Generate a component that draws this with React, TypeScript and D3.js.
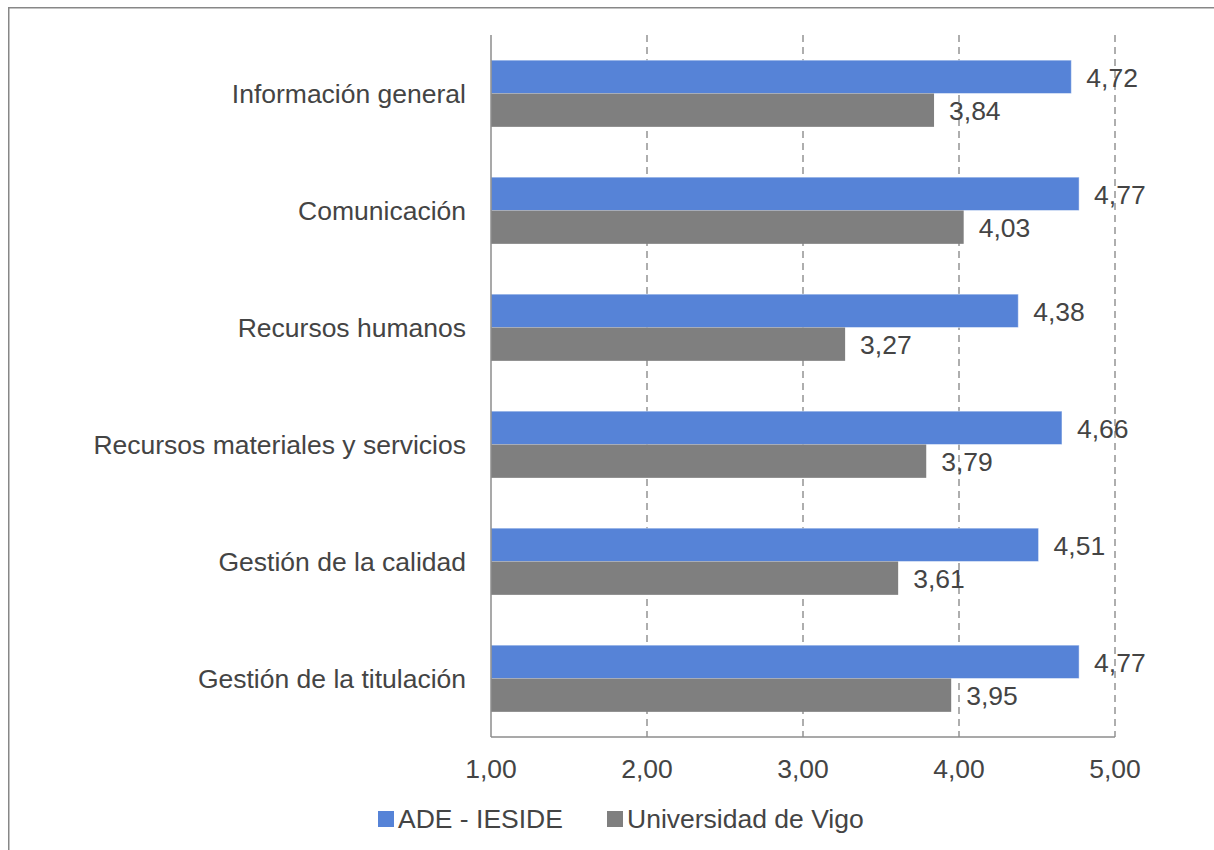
import React from "react";
import * as d3 from "d3";

const categories = [
  "Información general",
  "Comunicación",
  "Recursos humanos",
  "Recursos materiales y servicios",
  "Gestión de la calidad",
  "Gestión de la titulación",
];
const seriesNames = ["ADE - IESIDE", "Universidad de Vigo"];
const adeValues = [4.72, 4.77, 4.38, 4.66, 4.51, 4.77];
const vigoValues = [3.84, 4.03, 3.27, 3.79, 3.61, 3.95];
const xTicks = [1, 2, 3, 4, 5];
const seriesColors = ["#5683D7", "#7F7F7F"];

const W = 1214;
const H = 850;
const plotLeft = 491;
const plotRight = 1115;
const plotTop = 35;
const plotBottom = 737;
const FONT = "'Liberation Sans', Arial, sans-serif";
const FS = 26.5;
const TEXT = "#444444";

const fmt = (v: number) => d3.format(".2f")(v).replace(".", ",");

export default function App() {
  const x = d3.scaleLinear().domain([1, 5]).range([plotLeft, plotRight]);
  const y = d3
    .scaleBand<string>()
    .domain(categories)
    .range([plotTop, plotBottom])
    .paddingInner(0.43)
    .paddingOuter(0.215);
  const inner = d3
    .scaleBand<string>()
    .domain(seriesNames)
    .range([0, y.bandwidth()])
    .padding(0);
  const seriesValues = [adeValues, vigoValues];

  return (
    <div style={{ position: "fixed", left: 0, top: 0 }}>
      <svg width={W} height={H} style={{ display: "block", background: "#fff" }}>
        <rect x={8.75} y={7.75} width={1400} height={1000} fill="#fff" stroke="#878787" strokeWidth={1.5} />
        {/* gridlines */}
        {xTicks.slice(1).map((t) => (
          <line
            key={"g" + t}
            x1={x(t)}
            x2={x(t)}
            y1={plotTop}
            y2={plotBottom}
            stroke="#949494"
            strokeWidth={1.5}
            strokeDasharray="7,5"
          />
        ))}
        {/* bars */}
        {categories.map((c, i) =>
          seriesNames.map((s, j) => {
            const v = seriesValues[j][i];
            const by = (y(c) as number) + (inner(s) as number);
            const bh = inner.bandwidth();
            return (
              <g key={c + s}>
                <rect
                  x={x(1)}
                  y={by}
                  width={x(v) - x(1)}
                  height={bh}
                  fill={seriesColors[j]}
                  stroke={j === 0 ? "rgba(255,255,255,0.45)" : "none"}
                  strokeWidth={1}
                />
                <text
                  x={x(v) + 15}
                  y={by + bh / 2 + 1}
                  dy="0.35em"
                  fontFamily={FONT}
                  fontSize={FS}
                  fill={TEXT}
                >
                  {fmt(v)}
                </text>
              </g>
            );
          })
        )}
        {/* axes */}
        <line x1={plotLeft} x2={plotLeft} y1={plotTop} y2={plotBottom} stroke="#8c8c8c" strokeWidth={1.5} />
        <line x1={plotLeft} x2={plotRight} y1={plotBottom} y2={plotBottom} stroke="#8c8c8c" strokeWidth={1.5} />
        {/* category labels */}
        {categories.map((c) => (
          <text
            key={"c" + c}
            x={plotLeft - 25}
            y={(y(c) as number) + y.bandwidth() / 2}
            dy="0.35em"
            textAnchor="end"
            fontFamily={FONT}
            fontSize={FS}
            fill={TEXT}
          >
            {c}
          </text>
        ))}
        {/* tick labels */}
        {xTicks.map((t) => (
          <text
            key={"t" + t}
            x={x(t)}
            y={778}
            textAnchor="middle"
            fontFamily={FONT}
            fontSize={FS}
            fill={TEXT}
          >
            {fmt(t)}
          </text>
        ))}
        {/* legend */}
        {seriesNames.map((s, j) => {
          const lx = j === 0 ? 378 : 607;
          return (
            <g key={"l" + s}>
              <rect x={lx} y={811} width={16} height={16} fill={seriesColors[j]} />
              <text x={lx + 20} y={828} fontFamily={FONT} fontSize={FS} fill={TEXT}>
                {s}
              </text>
            </g>
          );
        })}
      </svg>
    </div>
  );
}
